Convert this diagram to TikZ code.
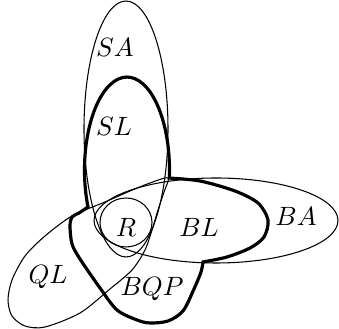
\documentclass[tikz,border=0pt]{standalone}
\usepackage{tikz}

\begin{document}
\begin{tikzpicture}[x=0.378pt,y=0.378pt,
    fino/.style={line width=0.4pt},
    grosso/.style={line width=1.2pt}]
  \useasboundingbox (0,0) rectangle (339,329);

  % SA e R
  \draw[fino] (126,200) ellipse (42 and 128);
  \draw[fino] (126,106.5) ellipse (26 and 24.5);

  % BA
  \draw[fino] (216,108.5) ellipse (122 and 42.5);

  % QL
  \draw[fino] plot[smooth cycle] coordinates {(168,151) (150,146) (130,138)
    (105,127) (72,113) (45,93) (25,73) (12,49) (8,29) (12,13) (25,3) (45,2)
    (80,16) (110,40) (132,59) (145,79) (152,99) (158,119) (164,137)};

  % contorno grosso: BL, BQP e SL
  \draw[grosso] plot[smooth] coordinates {(168,151) (200,148) (235,138)
      (258,126) (268,109) (264,92) (250,81) (227,72) (203,67)}
    -- plot[smooth] coordinates {(203,67) (201,57) (194,40) (183,18) (168,8)
      (150,6) (137,9) (117,19) (100,41) (80,70) (72,85) (70,103) (72,112)
      (79,116) (88,122)}
    arc[start angle=203.4, end angle=-4.9, x radius=42.5, y radius=93]
    -- cycle;

  % rotulos
  \node (sa) at (115,282) {$SA$};
  \node (sl) at (114,203) {$SL$};
  \node (r) at (126,102) {$R$};
  \node (bl) at (199,102) {$BL$};
  \node (ba) at (296,113) {$BA$};
  \node (ql) at (48,52) {$QL$};
  \node (bqp) at (152,40) {$BQP$};
\end{tikzpicture}
\end{document}
